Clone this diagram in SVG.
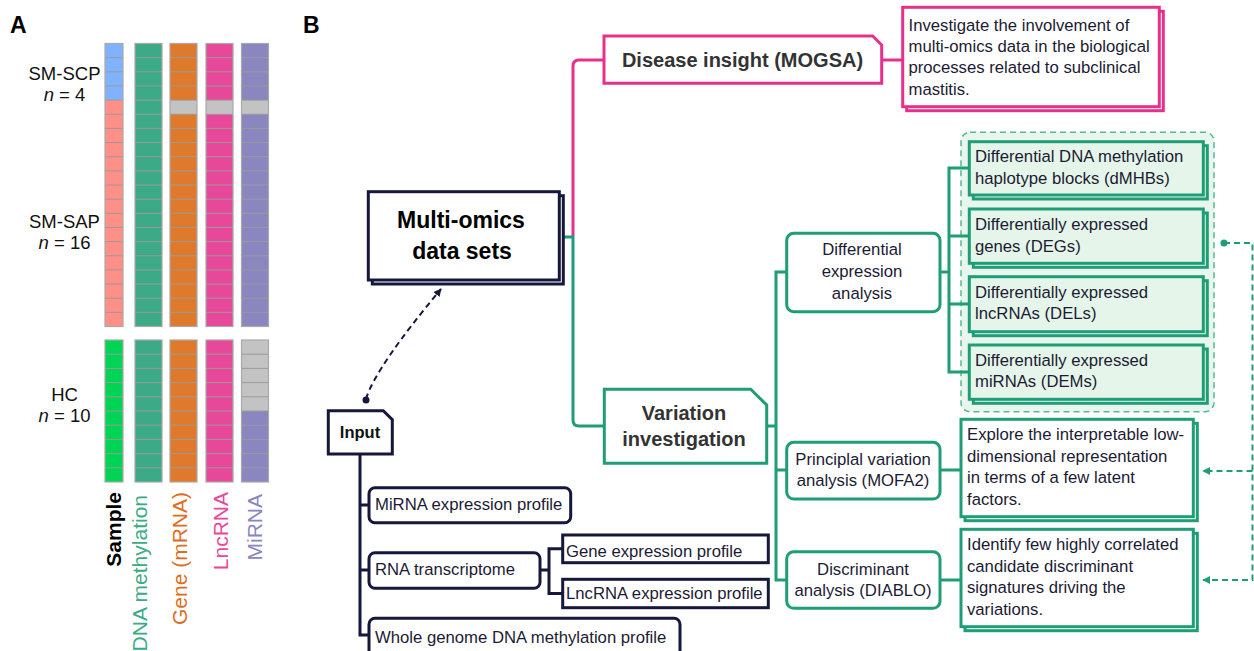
<svg xmlns="http://www.w3.org/2000/svg" width="1254" height="651" viewBox="0 0 1254 651">
<style>
text{font-family:"Liberation Sans",Arial,sans-serif;}
.lab{font-size:18.5px;fill:#111;text-anchor:middle;}
.rot{font-size:21px;text-anchor:end;}
.t{font-size:16.7px;fill:#1b1b33;}
.c{text-anchor:middle;}
.hd{font-size:20px;font-weight:bold;fill:#333;text-anchor:middle;}
.pl{font-size:23px;font-weight:bold;fill:#000;}
.nv{fill:none;stroke:#15173d;stroke-width:3;}
.gr{fill:none;stroke:#1f9d76;stroke-width:3;}
.pk{fill:none;stroke:#e7308a;stroke-width:3;}
.nvb{fill:#fff;stroke:#15173d;stroke-width:3;}
.grb{fill:#fff;stroke:#1f9d76;stroke-width:3;}
.grl{fill:#e5f5ea;stroke:#1f9d76;stroke-width:3;}
.pkb{fill:#fff;stroke:#e7308a;stroke-width:3;}
.cl{stroke:#9a9a9a;stroke-width:1;fill:none;}
.col{stroke:#a9a9a9;stroke-width:1.2;}
.dash{fill:none;stroke:#1f9d76;stroke-width:2;stroke-dasharray:6 4;}
</style>
<defs>
<path id="L1" d="M0,57.65h27M0,71.8h27M0,85.95h27M0,100.1h27M0,114.25h27M0,128.4h27M0,142.55h27M0,156.7h27M0,170.85h27M0,185h27M0,199.15h27M0,213.3h27M0,227.45h27M0,241.6h27M0,255.75h27M0,269.9h27M0,284.05h27M0,298.2h27M0,312.35h27" class="cl"/>
<path id="L1s" d="M0,57.65h18M0,71.8h18M0,85.95h18M0,100.1h18M0,114.25h18M0,128.4h18M0,142.55h18M0,156.7h18M0,170.85h18M0,185h18M0,199.15h18M0,213.3h18M0,227.45h18M0,241.6h18M0,255.75h18M0,269.9h18M0,284.05h18M0,298.2h18M0,312.35h18" class="cl"/>
<path id="L2" d="M0,354.2h27M0,368.4h27M0,382.6h27M0,396.8h27M0,411h27M0,425.2h27M0,439.4h27M0,453.6h27M0,467.8h27" class="cl"/>
<path id="L2s" d="M0,354.2h18M0,368.4h18M0,382.6h18M0,396.8h18M0,411h18M0,425.2h18M0,439.4h18M0,453.6h18M0,467.8h18" class="cl"/>
<marker id="arG" viewBox="0 0 10 10" refX="9" refY="5" markerWidth="8" markerHeight="8" markerUnits="userSpaceOnUse" orient="auto"><path d="M0,0L10,5L0,10z" fill="#1f9d76"/></marker>
<marker id="arN" viewBox="0 0 10 10" refX="9" refY="5" markerWidth="8" markerHeight="8" markerUnits="userSpaceOnUse" orient="auto"><path d="M0,0L10,5L0,10z" fill="#15173d"/></marker>
</defs>
<rect width="1254" height="651" fill="#fff"/>

<g id="panelA">
<text x="10" y="33" class="pl">A</text>
<text x="64.5" y="80" class="lab">SM-SCP</text>
<text x="64.5" y="100.7" class="lab"><tspan font-style="italic">n</tspan> = 4</text>
<text x="64.5" y="228.3" class="lab">SM-SAP</text>
<text x="64.5" y="249.3" class="lab"><tspan font-style="italic">n</tspan> = 16</text>
<text x="64.5" y="401" class="lab">HC</text>
<text x="64.5" y="422.3" class="lab"><tspan font-style="italic">n</tspan> = 10</text>
<rect x="105" y="43.5" width="18" height="56.6" fill="#80b3ff"/>
<rect x="105" y="100.1" width="18" height="226.4" fill="#ff8f87"/>
<rect x="135" y="43.5" width="27" height="283" fill="#3daa87"/>
<rect x="170" y="43.5" width="27" height="283" fill="#df7a2c"/>
<rect x="206" y="43.5" width="27" height="283" fill="#e8489a"/>
<rect x="241.5" y="43.5" width="27" height="283" fill="#8a86c0"/>
<rect x="170" y="100.1" width="27" height="14.15" fill="#c3c3c3"/>
<rect x="206" y="100.1" width="27" height="14.15" fill="#c3c3c3"/>
<rect x="241.5" y="100.1" width="27" height="14.15" fill="#c3c3c3"/>
<use href="#L1s" x="105"/><use href="#L1" x="135"/><use href="#L1" x="170"/><use href="#L1" x="206"/><use href="#L1" x="241.5"/>
<g fill="none" class="col">
<rect x="105" y="43.5" width="18" height="283"/>
<rect x="135" y="43.5" width="27" height="283"/>
<rect x="170" y="43.5" width="27" height="283"/>
<rect x="206" y="43.5" width="27" height="283"/>
<rect x="241.5" y="43.5" width="27" height="283"/>
</g>
<rect x="105" y="340" width="18" height="142" fill="#00d455"/>
<rect x="135" y="340" width="27" height="142" fill="#3daa87"/>
<rect x="170" y="340" width="27" height="142" fill="#df7a2c"/>
<rect x="206" y="340" width="27" height="142" fill="#e8489a"/>
<rect x="241.5" y="340" width="27" height="142" fill="#8a86c0"/>
<rect x="241.5" y="340" width="27" height="71" fill="#c3c3c3"/>
<use href="#L2s" x="105"/><use href="#L2" x="135"/><use href="#L2" x="170"/><use href="#L2" x="206"/><use href="#L2" x="241.5"/>
<g fill="none" class="col">
<rect x="105" y="340" width="18" height="142"/>
<rect x="135" y="340" width="27" height="142"/>
<rect x="170" y="340" width="27" height="142"/>
<rect x="206" y="340" width="27" height="142"/>
<rect x="241.5" y="340" width="27" height="142"/>
</g>
<text class="rot" transform="translate(120.5,492) rotate(-90)" font-weight="bold" fill="#000">Sample</text>
<text class="rot" transform="translate(146.5,495) rotate(-90)" fill="#3daa87">DNA methylation</text>
<text class="rot" transform="translate(187.2,492) rotate(-90)" fill="#dc6d22">Gene (mRNA)</text>
<text class="rot" transform="translate(227.5,492) rotate(-90)" fill="#e8489a">LncRNA</text>
<text class="rot" transform="translate(262,494) rotate(-90)" fill="#8a86c0">MiRNA</text>
</g>

<text x="303" y="33" class="pl">B</text>

<g id="cluster">
<rect x="961" y="132.3" width="253" height="279.4" rx="9" fill="#e9f6ee" stroke="#55b994" stroke-width="1.5" stroke-dasharray="6 4"/>
</g>

<g id="connectors">
<path class="pk" d="M573,236 V66 Q573,60 579,60 H604"/>
<path class="pk" d="M881.7,60 H902.7"/>
<path class="gr" d="M562,237 H573 V420 Q573,426 579,426 H604.3"/>
<path class="gr" d="M766.7,426 H776"/>
<path class="gr" d="M786.7,272 H776 V580 H786.7"/>
<path class="gr" d="M776,470 H786.7"/>
<path class="gr" d="M940,272 H949"/>
<path class="gr" d="M969,168 H949 V372 H969 M949,236 H969 M949,304 H969"/>
<path class="gr" d="M940,470 H961 M940,580 H961"/>
<path class="dash" d="M1224,243 H1252.5 V580 H1203" marker-end="url(#arG)"/>
<path class="dash" d="M1252.5,471 H1203" marker-end="url(#arG)"/>
<circle cx="1224" cy="243" r="3.5" fill="#1f9d76"/>
<path d="M366,399 C372,378 400,338 441,289" fill="none" stroke="#15173d" stroke-width="2" stroke-dasharray="6 4" marker-end="url(#arN)"/>
<circle cx="366" cy="400" r="3.5" fill="#15173d"/>
<path class="nv" d="M360,454 V635 H369 M360,505 H369 M360,570 H369"/>
<path class="nv" d="M540,570 H549 M562.7,548.8 H549 V593.5 H562.7"/>
</g>

<g id="multiomics">
<rect x="372.3" y="195.7" width="191" height="88.3" class="nvb"/>
<rect x="368.3" y="191.7" width="191" height="88.3" class="nvb"/>
<text x="461" y="227.5" class="pl" text-anchor="middle">Multi-omics</text>
<text x="462" y="258.5" class="pl" text-anchor="middle">data sets</text>
</g>

<g id="disease">
<path class="pkb" d="M604,36 H872.7 L881.7,45 V83.3 H604 Z"/>
<text x="742.5" y="67" class="hd">Disease insight (MOGSA)</text>
</g>

<g id="disease-desc">
<rect x="906.7" y="11.3" width="256.6" height="99.4" class="pkb"/>
<rect x="902.7" y="7.3" width="256.6" height="99.4" class="pkb"/>
<text class="t" x="908.5" y="30.5">Investigate the involvement of</text>
<text class="t" x="908.5" y="51.9">multi-omics data in the biological</text>
<text class="t" x="908.5" y="73.3">processes related to subclinical</text>
<text class="t" x="908.5" y="94.7">mastitis.</text>
</g>

<g id="variation">
<path class="grb" d="M604.3,389.3 H750.7 L766.7,405 V463.3 H604.3 Z"/>
<text x="684" y="420" class="hd">Variation</text>
<text x="684" y="446" class="hd">investigation</text>
</g>

<g id="dea">
<rect x="786.7" y="233.3" width="153.3" height="78.4" rx="7" class="grb"/>
<text class="t c" x="862" y="255">Differential</text>
<text class="t c" x="862" y="277">expression</text>
<text class="t c" x="862" y="298.5">analysis</text>
</g>

<g id="dmhb">
<rect x="973.3" y="145.7" width="234" height="53.3" class="grl"/>
<rect x="969.3" y="141.7" width="234" height="53.3" class="grl"/>
<text class="t" x="975" y="162.3">Differential DNA methylation</text>
<text class="t" x="975" y="183.6">haplotype blocks (dMHBs)</text>
</g>
<g id="deg">
<rect x="973.3" y="213" width="234" height="54.3" class="grl"/>
<rect x="969.3" y="209" width="234" height="54.3" class="grl"/>
<text class="t" x="975" y="230">Differentially expressed</text>
<text class="t" x="975" y="251.7">genes (DEGs)</text>
</g>
<g id="del">
<rect x="973.3" y="280.7" width="234" height="55" class="grl"/>
<rect x="969.3" y="276.7" width="234" height="55" class="grl"/>
<text class="t" x="975" y="297.7">Differentially expressed</text>
<text class="t" x="975" y="319.3">lncRNAs (DELs)</text>
</g>
<g id="dem">
<rect x="973.3" y="349" width="234" height="54.3" class="grl"/>
<rect x="969.3" y="345" width="234" height="54.3" class="grl"/>
<text class="t" x="975" y="365.7">Differentially expressed</text>
<text class="t" x="975" y="386.7">miRNAs (DEMs)</text>
</g>

<g id="pva">
<rect x="786.7" y="442.3" width="153.3" height="56.7" rx="7" class="grb"/>
<text class="t c" x="863" y="465">Principlal variation</text>
<text class="t c" x="863" y="486">analysis (MOFA2)</text>
</g>
<g id="da">
<rect x="786.7" y="551.7" width="153.3" height="56.6" rx="7" class="grb"/>
<text class="t c" x="863" y="575">Discriminant</text>
<text class="t c" x="863" y="596">analysis (DIABLO)</text>
</g>

<g id="explore">
<rect x="965" y="423.3" width="232.3" height="97.4" class="grb"/>
<rect x="961" y="419.3" width="232.3" height="97.4" class="grb"/>
<text class="t" x="967" y="440">Explore the interpretable low-</text>
<text class="t" x="967" y="461.5">dimensional representation</text>
<text class="t" x="967" y="483">in terms of a few latent</text>
<text class="t" x="967" y="504.5">factors.</text>
</g>
<g id="identify">
<rect x="965" y="533.3" width="232.3" height="97.4" class="grb"/>
<rect x="961" y="529.3" width="232.3" height="97.4" class="grb"/>
<text class="t" x="967" y="550">Identify few highly correlated</text>
<text class="t" x="967" y="571.5">candidate discriminant</text>
<text class="t" x="967" y="593">signatures driving the</text>
<text class="t" x="967" y="614.5">variations.</text>
</g>

<g id="input">
<path class="nvb" d="M328.3,410.7 H383.3 L392.3,419.7 V454 H328.3 Z"/>
<text x="360" y="437.5" text-anchor="middle" font-size="16.5" font-weight="bold" fill="#111">Input</text>
</g>
<g id="mirna-profile">
<rect x="369" y="487.7" width="201.7" height="35" rx="6" class="nvb"/>
<text class="t" x="375" y="510" fill="#222">MiRNA expression profile</text>
</g>
<g id="rna">
<rect x="369" y="552.7" width="171" height="35.6" rx="6" class="nvb"/>
<text class="t" x="375" y="575">RNA transcriptome</text>
</g>
<g id="gene-profile">
<rect x="562.7" y="535" width="205.6" height="27.7" class="nvb"/>
<text class="t" x="566" y="556.7">Gene expression profile</text>
</g>
<g id="lnc-profile">
<rect x="562.7" y="579.3" width="205.6" height="28.4" class="nvb"/>
<text class="t" x="566" y="598.5">LncRNA expression profile</text>
</g>
<g id="wgbs">
<rect x="369" y="618.3" width="311" height="40" rx="6" class="nvb"/>
<text class="t" x="375" y="643.3">Whole genome DNA methylation profile</text>
</g>
</svg>
